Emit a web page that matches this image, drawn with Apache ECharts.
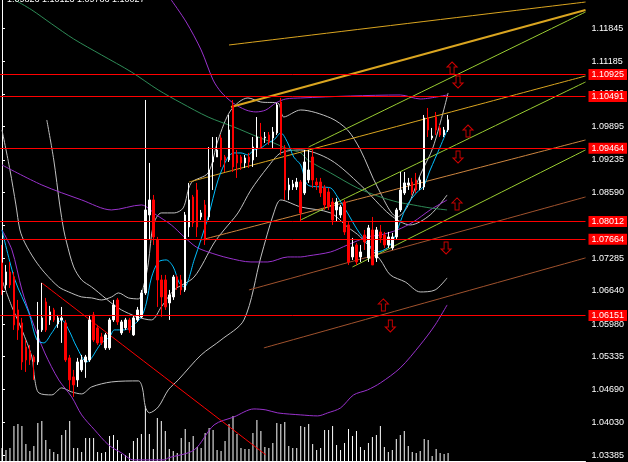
<!DOCTYPE html>
<html>
<head>
<meta charset="utf-8">
<script src="https://cdn.jsdelivr.net/npm/echarts@6/dist/echarts.min.js"></script>
<style>
  html, body { margin: 0; padding: 0; background: #000; }
  #chart { width: 628px; height: 462px; }
</style>
</head>
<body>
<div id="chart"></div>
<script>
// daily candles, oldest first
const opens = [1.07193,1.06757,1.07014,1.06915,1.06262,1.06005,1.05529,1.05430,1.05331,1.05232,1.05866,1.06420,1.06064,1.06262,1.05985,1.06064,1.06005,1.05312,1.04935,1.04876,1.05074,1.05232,1.05272,1.06163,1.05906,1.05727,1.05510,1.05510,1.06064,1.06460,1.05807,1.05906,1.06064,1.05767,1.06064,1.06123,1.06599,1.08143,1.08440,1.07648,1.06856,1.06856,1.06401,1.06519,1.06915,1.06856,1.06658,1.07905,1.08499,1.08638,1.08103,1.08341,1.08103,1.09192,1.09291,1.09668,1.09291,1.09232,1.10321,1.09331,1.09291,1.09173,1.09291,1.09232,1.09470,1.09687,1.09668,1.09727,1.09668,1.09767,1.10380,1.09430,1.08638,1.08697,1.08697,1.08796,1.08579,1.08836,1.09291,1.08796,1.08796,1.08678,1.08598,1.08400,1.08242,1.08143,1.08400,1.07945,1.07311,1.07549,1.07311,1.07747,1.07292,1.07846,1.07292,1.07806,1.07747,1.07549,1.07490,1.07707,1.08242,1.08579,1.08737,1.08796,1.08836,1.08678,1.08697,1.10064,1.09668,1.10083,1.09866,1.09727,1.09826]
const closes = [1.06658,1.07014,1.06757,1.05965,1.05866,1.05232,1.05272,1.05272,1.05232,1.05866,1.06104,1.05866,1.06222,1.06064,1.06104,1.06104,1.05272,1.04876,1.04777,1.05232,1.05272,1.05331,1.06064,1.05668,1.05609,1.05609,1.05767,1.06064,1.06361,1.06024,1.06024,1.06064,1.05866,1.06104,1.06262,1.06599,1.08242,1.08440,1.07707,1.06856,1.06519,1.06321,1.06559,1.06915,1.06717,1.06658,1.08143,1.08440,1.07985,1.07905,1.08183,1.07648,1.09034,1.09291,1.09430,1.09232,1.09232,1.09826,1.09093,1.09173,1.09173,1.09272,1.09192,1.09489,1.09687,1.09489,1.09687,1.09588,1.09786,1.10321,1.09430,1.08638,1.08737,1.08757,1.08796,1.08183,1.09192,1.09034,1.08836,1.08737,1.08579,1.08341,1.08301,1.08044,1.08400,1.08301,1.07806,1.07212,1.07509,1.07212,1.07410,1.07608,1.07886,1.07153,1.07846,1.07688,1.07549,1.07707,1.07707,1.08242,1.08638,1.08777,1.08777,1.08598,1.08638,1.08836,1.10064,1.09826,1.09707,1.09826,1.09727,1.09826,1.10027]
const lows = [1.06559,1.06658,1.06698,1.05866,1.05668,1.05074,1.05034,1.05173,1.04876,1.05173,1.05826,1.05826,1.05965,1.06024,1.05906,1.05609,1.05232,1.04678,1.04539,1.04737,1.05034,1.04916,1.05232,1.05628,1.05569,1.05569,1.05470,1.05470,1.06024,1.05965,1.05767,1.05866,1.05807,1.05747,1.06024,1.06104,1.06559,1.07648,1.07549,1.06321,1.06123,1.06262,1.06064,1.06460,1.06658,1.06559,1.06618,1.07707,1.07905,1.07707,1.08044,1.07549,1.08044,1.08638,1.09291,1.09093,1.08994,1.09192,1.08994,1.08876,1.09034,1.09074,1.09074,1.09093,1.09291,1.09470,1.09569,1.09529,1.09470,1.09727,1.09331,1.08440,1.08440,1.08638,1.08638,1.08004,1.08539,1.08777,1.08678,1.08638,1.08499,1.08242,1.08242,1.07945,1.08004,1.08084,1.07747,1.07153,1.07252,1.07153,1.07212,1.07450,1.07212,1.07153,1.07212,1.07589,1.07490,1.07490,1.07450,1.07648,1.08202,1.08539,1.08638,1.08539,1.08579,1.08638,1.08638,1.09687,1.09628,1.09727,1.09687,1.09687,1.09786]
const highs = [1.07549,1.07153,1.07212,1.07014,1.06460,1.06104,1.05668,1.05569,1.05371,1.06420,1.06797,1.06500,1.06341,1.06302,1.06163,1.06321,1.06064,1.05371,1.05074,1.05312,1.05371,1.05371,1.06163,1.06222,1.05965,1.05807,1.05807,1.06104,1.06460,1.06500,1.06064,1.06104,1.06104,1.06143,1.06321,1.06658,1.10420,1.09173,1.08539,1.07707,1.06955,1.06955,1.06658,1.06955,1.06955,1.06955,1.08202,1.08777,1.08539,1.08777,1.08242,1.08440,1.09489,1.09687,1.09687,1.09727,1.09331,1.10123,1.10420,1.09430,1.09331,1.09331,1.09371,1.09687,1.10083,1.09965,1.09786,1.09786,1.09885,1.10361,1.10460,1.09529,1.08876,1.08836,1.08876,1.08836,1.09430,1.09430,1.09430,1.08876,1.08876,1.08737,1.08678,1.08480,1.08480,1.08341,1.08440,1.08004,1.07688,1.07589,1.07549,1.07846,1.07945,1.08103,1.07905,1.07945,1.07806,1.07806,1.07787,1.08282,1.08994,1.08994,1.08876,1.08876,1.08975,1.08895,1.10123,1.10262,1.09866,1.10182,1.09925,1.09885,1.10123]
const volumes = [13,11,13,35,37,35,17,10,15,38,40,21,12,9,7,26,31,40,13,13,9,23,23,23,9,8,9,25,26,21,7,6,8,20,23,27,55,27,12,43,40,30,12,10,8,23,32,19,25,14,13,28,33,31,11,10,20,37,45,27,13,12,12,28,41,30,14,13,18,38,37,39,15,13,13,35,34,37,17,11,13,31,31,35,16,11,18,32,25,30,14,11,18,24,26,35,14,9,11,22,26,30,15,9,8,10,22,21,5,12,8,7,8]

const priceTicks = [1.11845,1.11185,1.10540,1.09895,1.09235,1.08590,1.07945,1.07285,1.06640,1.05980,1.05335,1.04690,1.04030,1.03385]
const levels = [1.10925,1.10491,1.09464,1.08012,1.07664,1.06151]
const lastPrice = 1.10027

// indicator curves, [bar, price]
const maFast = [[0,1.07846],[3.25,1.06856],[6.75,1.06203],[8.75,1.05668],[10.5,1.05609],[12.5,1.05807],[15,1.06064],[16.75,1.05866],[18.75,1.05529],[21.25,1.05232],[22.5,1.05312],[23.75,1.05470],[25,1.05609],[27,1.05727],[28.25,1.05866],[30.75,1.05866],[33,1.05965],[35,1.06123],[36.25,1.06401],[37.5,1.06896],[39.25,1.07212],[41.25,1.07252],[43,1.07113],[44.5,1.06797],[45.75,1.06717],[48.25,1.07252],[51.75,1.08103],[54.25,1.08836],[56.75,1.09291],[58.25,1.09371],[60,1.09371],[61.75,1.09331],[63.25,1.09430],[65,1.09470],[66.75,1.09569],[68.25,1.09628],[70,1.09767],[71.75,1.09569],[73.25,1.09291],[75,1.09133],[76.75,1.08737],[80,1.08697],[82.5,1.08678],[84.25,1.08499],[86.75,1.08183],[89.25,1.07846],[91.75,1.07589],[94.25,1.07410],[96.75,1.07490],[98.25,1.07648],[100,1.08004],[101.75,1.08341],[104.25,1.08598],[105.75,1.08697],[107.5,1.09034],[110,1.09489],[112,1.09866]]
const maSlow = [[3.25,1.12400],[7.5,1.12202],[12.5,1.11925],[18,1.11628],[25,1.11311],[32.5,1.10974],[39.25,1.10618],[45,1.10361],[51.75,1.10083],[58.25,1.09885],[64.25,1.09687],[68.25,1.09569],[71.75,1.09450],[75,1.09371],[76.75,1.09232],[82.5,1.08975],[89.25,1.08677],[95,1.08499],[99.25,1.08400],[103.25,1.08341],[107.5,1.08282],[111.75,1.08242]]
const bandUpper = [[42.5,1.12400],[46.25,1.11964],[50,1.11410],[53,1.10816],[55,1.10578],[58,1.10361],[61.25,1.10222],[63.75,1.10183],[66.25,1.10222],[68.75,1.10361],[71.25,1.10440],[75,1.10460],[87.5,1.10499],[100,1.10519],[105,1.10440],[111.75,1.10519]]
const bandMiddle = [[0,1.09133],[10,1.08737],[20,1.08440],[27.5,1.08242],[35,1.08341],[38.75,1.08143],[42.5,1.07945],[45.75,1.07707],[48.75,1.07509],[51.75,1.07410],[56.75,1.07292],[62.5,1.07212],[66.75,1.07212],[71.75,1.07311],[75,1.07311],[76.75,1.07331],[82.5,1.07410],[86.75,1.07549],[91.75,1.07707],[95,1.07747],[99.25,1.07846],[103.25,1.08004],[107.5,1.08242],[111.75,1.08440]]
const bandLower = [[0,1.07846],[2.5,1.07450],[5,1.06658],[7.5,1.06064],[10.75,1.05410],[14.25,1.04876],[17.5,1.04539],[20,1.04183],[23.25,1.03886],[26.75,1.03589],[30,1.03430],[33,1.03292],[40.75,1.03292],[41.75,1.03331],[48.25,1.03490],[53.25,1.03985],[58.25,1.04143],[63.25,1.04301],[66.25,1.04282],[69.25,1.04222],[75,1.04183],[79.25,1.04163],[81.75,1.04222],[85,1.04321],[88.25,1.04578],[91.75,1.04677],[95,1.04816],[100,1.05114],[105,1.05569],[108.75,1.05965],[111.75,1.06361]]
const grayUpper = [[0,1.09826],[2,1.09034],[3.5,1.08341],[4.5,1.07846],[5.75,1.07589],[8.25,1.07252],[10.75,1.06995],[14.25,1.06717],[16.75,1.06618],[20,1.06519],[22.5,1.06500],[25,1.06460],[27.5,1.06519],[29.25,1.06599],[31.75,1.06500],[34.25,1.06480],[35.75,1.06797],[36.75,1.07193],[38,1.07945],[40,1.08183],[43.25,1.08183],[45.5,1.08282],[47.5,1.08777],[51.75,1.08975],[54.25,1.09628],[57.5,1.10222],[61.75,1.10460],[65,1.10380],[69.25,1.10361],[70.75,1.10083],[75,1.10222],[82.5,1.10064],[86.75,1.09826],[90,1.09430],[94.25,1.08697],[99.25,1.08103],[101.75,1.08301],[105,1.08935],[108.25,1.09489],[112,1.10559]]
const grayMiddle = [[11.25,1.10024],[13,1.09232],[14.5,1.08341],[15.5,1.07846],[16.25,1.07589],[18,1.07113],[20,1.06856],[22.5,1.06717],[30,1.06262],[37.5,1.06064],[40,1.06321],[43.25,1.06658],[48.25,1.06915],[53.25,1.07589],[55.75,1.07846],[59.25,1.08183],[62.5,1.08638],[66.75,1.09093],[70,1.09371],[75,1.09430],[82.5,1.09232],[90,1.08737],[97.5,1.08143],[102.5,1.07945],[107.5,1.08143],[111.75,1.08539]]
const grayLower = [[0,1.06856],[2.5,1.06321],[5,1.05866],[7.5,1.05331],[8.25,1.04876],[9.25,1.04619],[12.5,1.04579],[15,1.04718],[17.5,1.04638],[20,1.04599],[22.5,1.04737],[27.5,1.04836],[34.25,1.04856],[35.25,1.04718],[36,1.04341],[37,1.04223],[39.25,1.04341],[41.75,1.04678],[44.25,1.04876],[50,1.05371],[55,1.05668],[60.75,1.06064],[65,1.07311],[68.25,1.08183],[70,1.08440],[75,1.08301],[82.5,1.08183],[86.75,1.07905],[90,1.07707],[95,1.07252],[97.5,1.06955],[101.25,1.06816],[105,1.06618],[108.75,1.06658],[111.75,1.06896]]

// drawn objects: [startBar, startPrice, endBar, endPrice]
const goldThick = [57.5,1.10281,146.5,1.12202]
const goldTop = [57,1.11509,146.5,1.12360]
const goldMid = [47,1.08796,146.5,1.10895]
const peruLine = [50,1.07648,146.5,1.09628]
const siennaA = [62,1.06658,146.5,1.08499]
const siennaB = [65.75,1.05510,146.5,1.07292]
const greenA = [77,1.09489,146.5,1.12162]
const greenB = [75,1.08044,146.5,1.10776]
const greenC = [88,1.07113,146.5,1.09430]
const redTrend = [10,1.06797,66.25,1.03391]
const arrowsUp = [[113,1.11054],[117,1.09806],[114.25,1.08361],[95.75,1.06361]]
const arrowsDown = [[114.5,1.10776],[114.5,1.09291],[111.5,1.07489],[97.5,1.05945]]

const slots = 147
const categories = Array.from({ length: slots }, (_, i) => String(i))
const candles = opens.map((o, i) => [o, closes[i], lows[i], highs[i]])
const last = opens.length - 1

const chart = echarts.init(document.getElementById('chart'))
const fontFamily = '"Liberation Sans", Arial, sans-serif'

function curve(points, color, width) {
  return {
    type: 'line',
    xAxisIndex: 1,
    yAxisIndex: 0,
    data: points,
    showSymbol: false,
    smooth: 0.3,
    silent: true,
    lineStyle: { color, width: width || 1 },
    z: 3,
  }
}

function segment(line, color, width) {
  return curve([[line[0], line[1]], [line[2], line[3]]], color, width)
}

function arrows(points, path) {
  return {
    type: 'scatter',
    xAxisIndex: 1,
    yAxisIndex: 0,
    data: points,
    symbol: path,
    symbolSize: [10, 12],
    itemStyle: { color: 'rgba(0,0,0,0)', borderColor: '#ff0000', borderWidth: 1 },
    silent: true,
    z: 6,
  }
}

const upPath = 'path://M5,0 L10,5 L7,5 L7,12 L3,12 L3,5 L0,5 Z'
const downPath = 'path://M3,0 L7,0 L7,7 L10,7 L5,12 L0,7 L3,7 Z'

const option = {
  animation: false,
  backgroundColor: '#000000',
  title: {
    text: [opens[last], highs[last], lows[last], closes[last]].map(v => v.toFixed(5)).join(' '),
    left: 2,
    top: -10,
    textStyle: { color: '#ffffff', fontSize: 9, fontWeight: 'normal', fontFamily },
  },
  grid: [
    { left: -1.5, right: 42.5, top: 0, bottom: 1, containLabel: false },
    { left: -1.5, right: 42.5, bottom: 1, height: 60, containLabel: false },
  ],
  xAxis: [
    { type: 'category', gridIndex: 0, data: categories, show: false, boundaryGap: true },
    { type: 'value', gridIndex: 0, min: -0.5, max: slots - 0.5, show: false },
    {
      type: 'category', gridIndex: 1, data: categories, boundaryGap: true,
      axisLine: { show: true, lineStyle: { color: '#ffffff', width: 1 } },
      axisTick: { show: false },
      axisLabel: { show: false },
    },
  ],
  yAxis: [
    {
      type: 'value',
      gridIndex: 0,
      position: 'right',
      min: 1.0327,
      max: 1.1240,
      axisLine: { show: true, lineStyle: { color: '#ffffff', width: 1 } },
      axisTick: { show: true, inside: false, length: 3, customValues: priceTicks, lineStyle: { color: '#ffffff' } },
      axisLabel: {
        show: true,
        customValues: priceTicks,
        color: '#ffffff',
        fontSize: 9,
        fontFamily,
        margin: 6,
        formatter: v => v.toFixed(5),
      },
      splitLine: { show: false },
    },
    { type: 'value', gridIndex: 1, min: 0, max: 60, show: false },
  ],
  series: [
    {
      type: 'bar',
      xAxisIndex: 2,
      yAxisIndex: 1,
      data: volumes,
      barWidth: 1,
      itemStyle: { color: '#ffffff' },
      silent: true,
      z: 1,
    },
    curve(grayUpper, '#c0c0c0'),
    curve(grayMiddle, '#c0c0c0'),
    curve(grayLower, '#c0c0c0'),
    curve(bandUpper, '#9932cc'),
    curve(bandMiddle, '#9932cc'),
    curve(bandLower, '#9932cc'),
    curve(maSlow, '#2e8b57'),
    segment(goldTop, '#daa520'),
    segment(goldThick, '#daa520', 2),
    segment(goldMid, '#daa520'),
    segment(peruLine, '#cd853f'),
    segment(siennaA, '#a0522d'),
    segment(siennaB, '#a0522d'),
    segment(greenA, '#9acd32'),
    segment(greenB, '#9acd32'),
    segment(greenC, '#9acd32'),
    segment(redTrend, '#ff0000'),
    {
      type: 'candlestick',
      xAxisIndex: 0,
      yAxisIndex: 0,
      data: candles,
      barWidth: 2,
      itemStyle: {
        color: '#ffffff',
        color0: '#ff0000',
        borderColor: '#ffffff',
        borderColor0: '#ff0000',
        borderWidth: 1,
      },
      z: 4,
      markLine: {
        silent: true,
        symbol: 'none',
        precision: 5,
        animation: false,
        lineStyle: { color: '#ff0000', width: 1, type: 'solid' },
        label: {
          position: 'end',
          distance: 3,
          formatter: p => Number(p.value).toFixed(5),
          color: '#ffffff',
          backgroundColor: '#ff0000',
          padding: [1, 3, 1, 3],
          fontSize: 9,
          fontFamily,
        },
        data: levels.map(v => ({ yAxis: v })).concat([{
          yAxis: lastPrice,
          lineStyle: { opacity: 0 },
          label: { color: '#000000', backgroundColor: '#ffffff' },
        }]),
      },
    },
    curve(maFast, '#00bfff'),
    arrows(arrowsUp, upPath),
    arrows(arrowsDown, downPath),
  ],
}

chart.setOption(option)
window.addEventListener('resize', () => chart.resize())
</script>
</body>
</html>
